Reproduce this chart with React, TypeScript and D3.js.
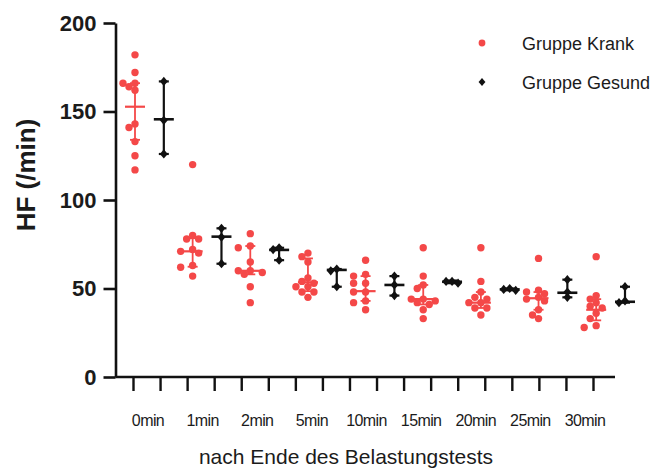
import React, { useEffect, useRef } from 'react';
import * as d3 from 'd3';

// Zeitpunkte nach dem Belastungstest
const categories = ['0min', '1min', '2min', '5min', '10min', '15min', '20min', '25min', '30min'];

// Gruppe Krank: Einzelwerte + Mittellinie/Fehlerbalken
const krankPoints = [
    [182, 172, 166, 166, 164, 162, 143, 141, 133, 125, 117],
    [120, 80, 78, 78, 72, 71, 70, 63, 62, 57],
    [81, 74, 73, 65, 60, 60, 59, 58, 51, 42],
    [70, 68, 65, 56, 54, 53, 51, 51, 48, 48, 45],
    [66, 58, 57, 53, 53, 48, 48, 43, 42, 38],
    [73, 57, 52, 50, 44, 44, 43, 42, 41, 38, 33],
    [73, 54, 48, 45, 44, 42, 42, 39, 39, 35],
    [67, 49, 48, 47, 45, 44, 43, 38, 35, 33],
    [68, 46, 44, 42, 40, 39, 36, 33, 29, 28],
];
const krankCenter = [152.7, 71, 60, 53.5, 48.5, 44, 42, 44.5, 38];
const krankLow = [134, 62.3, 58, 48.5, 43, 41, 39, 38, 32];
const krankHigh = [166, 78.4, 74, 67, 57, 52, 48, 48, 44];

// Gruppe Gesund
const gesundPoints = [
    [167, 145, 126],
    [84, 79, 64],
    [73, 72, 66],
    [61, 60, 51],
    [57, 52, 46],
    [54, 54, 53],
    [50, 49.5, 49],
    [55, 48, 45],
    [51, 43, 42],
];
const gesundCenter = [145.6, 79.3, 71.8, 60.5, 52, 53.8, 49.5, 47.6, 42.5];
const gesundLow = [126, 64, 66, 51, 46, 53, 49, 45, 42];
const gesundHigh = [167, 84, 73, 61, 57, 54.5, 50, 55, 51];

const yTicks = [0, 50, 100, 150, 200];
const seriesNames = ['Gruppe Krank', 'Gruppe Gesund'];

const RED = '#f44848';
const TEXT = '#1b1b1b';
const FONT = "'Liberation Sans', Arial, sans-serif";

// einfache Beeswarm-Verteilung, damit sich Punkte nicht verdecken
const swarm = (ys, step, minDist) => {
    const placed = [];
    return ys.map(y => {
        const cands = [0, -step, step, -2 * step, 2 * step, -3 * step, 3 * step];
        let off = cands[cands.length - 1];
        for (const c of cands) {
            const hit = placed.some(p => Math.hypot(p.x - c, p.y - y) < minDist);
            if (!hit) { off = c; break; }
        }
        placed.push({ x: off, y });
        return off;
    });
};

const App = () => {
    const svgRef = useRef(null);
    const width = 658;
    const height = 469;

    useEffect(() => {
        const svg = d3.select(svgRef.current);
        svg.selectAll('*').remove();

        const yScale = d3.scaleLinear().domain([0, 200]).range([377, 23]);
        const axisX = 115.5;

        // Positionen der Gruppen (Krank/Gesund je Zeitpunkt)
        const groupKeys = categories.flatMap(c => [c + '|K', c + '|G']);
        const xGroup = d3.scalePoint().domain(groupKeys).range([135, 625]);
        const xTicks = d3.scalePoint().domain(groupKeys).range([133, 593]);
        const xLabel = d3.scalePoint().domain(categories).range([148, 585]);

        // y-Achse
        const yAxis = d3.axisLeft(yScale).tickValues(yTicks).tickSize(12).tickSizeOuter(0).tickPadding(7);
        const gy = svg.append('g').attr('transform', `translate(${axisX},0)`).call(yAxis);
        gy.select('.domain').attr('stroke-width', 2.6).attr('stroke', '#111');
        gy.selectAll('.tick line').attr('stroke-width', 2.6).attr('stroke', '#111');
        gy.selectAll('.tick text')
            .attr('font-family', FONT).attr('font-size', 22).attr('font-weight', 'bold')
            .attr('fill', TEXT);

        // x-Achse
        svg.append('line')
            .attr('x1', axisX).attr('x2', 615)
            .attr('y1', yScale(0)).attr('y2', yScale(0))
            .attr('stroke', '#111').attr('stroke-width', 2.4);
        const xAxis = d3.axisBottom(xTicks).tickSize(14).tickSizeOuter(0).tickFormat(() => '');
        const gx = svg.append('g').attr('transform', `translate(0,${yScale(0)})`).call(xAxis);
        gx.select('.domain').remove();
        gx.selectAll('.tick line').attr('stroke-width', 2.4).attr('stroke', '#111');

        svg.append('g').selectAll('text')
            .data(categories)
            .join('text')
            .attr('x', d => xLabel(d))
            .attr('y', 426)
            .attr('text-anchor', 'middle')
            .attr('font-family', FONT).attr('font-size', 16)
            .attr('letter-spacing', -0.6)
            .attr('fill', TEXT)
            .text(d => d);

        svg.append('text')
            .attr('x', 346).attr('y', 464)
            .attr('text-anchor', 'middle')
            .attr('font-family', FONT).attr('font-size', 21)
            .attr('fill', TEXT)
            .text('nach Ende des Belastungstests');

        svg.append('text')
            .attr('transform', 'translate(35,175) rotate(-90)')
            .attr('text-anchor', 'middle')
            .attr('font-family', FONT).attr('font-size', 26).attr('font-weight', 'bold')
            .attr('fill', TEXT)
            .text('HF (/min)');

        // Fehlerbalken
        const drawBars = (key, center, low, high, color, width) => {
            const g = svg.append('g').attr('stroke', color).attr('stroke-width', width);
            categories.forEach((c, i) => {
                const x = xGroup(c + key);
                g.append('line').attr('x1', x).attr('x2', x)
                    .attr('y1', yScale(low[i])).attr('y2', yScale(high[i]));
                [low[i], high[i]].forEach(v => {
                    g.append('line').attr('x1', x - 5).attr('x2', x + 5)
                        .attr('y1', yScale(v)).attr('y2', yScale(v));
                });
                g.append('line').attr('x1', x - 10).attr('x2', x + 10)
                    .attr('y1', yScale(center[i])).attr('y2', yScale(center[i]))
                    .attr('stroke-width', width + 0.4);
            });
        };
        drawBars('|K', krankCenter, krankLow, krankHigh, RED, 1.8);
        drawBars('|G', gesundCenter, gesundLow, gesundHigh, '#111', 2.2);

        // Punkte Krank
        const gk = svg.append('g').attr('fill', RED);
        krankPoints.forEach((pts, i) => {
            const x = xGroup(categories[i] + '|K');
            const offs = swarm(pts.map(v => yScale(v)), 6, 6.4);
            gk.selectAll(null)
                .data(pts)
                .join('circle')
                .attr('cx', (d, j) => x + offs[j])
                .attr('cy', d => yScale(d))
                .attr('r', 3.7);
        });

        // Punkte Gesund (Rauten)
        const diamond = d3.symbol().type(d3.symbolDiamond).size(34);
        const gg = svg.append('g').attr('fill', '#111');
        gesundPoints.forEach((pts, i) => {
            const x = xGroup(categories[i] + '|G');
            const offs = swarm(pts.map(v => yScale(v)), 6, 5);
            gg.selectAll(null)
                .data(pts)
                .join('path')
                .attr('d', diamond())
                .attr('transform', (d, j) => `translate(${x + offs[j]},${yScale(d)}) scale(1.25,0.85)`);
        });

        // Legende
        const legend = svg.append('g');
        const legendY = d3.scalePoint().domain(seriesNames).range([43, 82]);
        legend.append('circle')
            .attr('cx', 482).attr('cy', legendY(seriesNames[0])).attr('r', 3.4).attr('fill', RED);
        legend.append('path')
            .attr('d', d3.symbol().type(d3.symbolDiamond).size(26)())
            .attr('transform', `translate(482,${legendY(seriesNames[1])}) scale(1.25,0.85)`)
            .attr('fill', '#111');
        legend.selectAll('text')
            .data(seriesNames)
            .join('text')
            .attr('x', 522)
            .attr('y', d => legendY(d) + 6.5)
            .attr('font-family', FONT).attr('font-size', 18)
            .attr('fill', TEXT)
            .text(d => d);
    }, []);

    return (
        <svg ref={svgRef} width={width} height={height}
            style={{ position: 'absolute', left: 0, top: 0, background: '#fff' }} />
    );
};

export default App;
